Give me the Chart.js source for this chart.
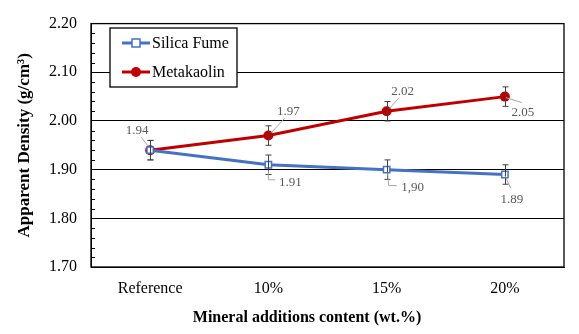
<!DOCTYPE html>
<html>
<head>
<meta charset="utf-8">
<script src="https://cdn.jsdelivr.net/npm/chart.js@4/dist/chart.umd.min.js"></script>
<style>
  html, body { margin: 0; padding: 0; background: #fff; }
  canvas { display: block; }
</style>
</head>
<body>
<canvas id="c" width="579" height="334"></canvas>
<script>
// ---- data ----
const categories = ['Reference', '10%', '15%', '20%'];
const silicaFume = [1.94, 1.91, 1.90, 1.89];
const metakaolin = [1.94, 1.97, 2.02, 2.05];
const silicaErr = [0.02, 0.02, 0.02, 0.02];
const metaErr = [0.02, 0.02, 0.02, 0.02];
const silicaLabels = ['', '1.91', '1,90', '1.89'];
const metaLabels = ['1.94', '1.97', '2.02', '2.05'];
const yMin = 1.70, yMax = 2.20, yStep = 0.10, yMinorStep = 0.02;
const seriesNames = ['Silica Fume', 'Metakaolin'];
const xTitle = 'Mineral additions content (wt.%)';
const yTitle = 'Apparent Density (g/cm\u00B3)';

// ---- styles ----
const BLUE = '#4472C4';
const RED = '#C00000';
const SERIF = '"Liberation Serif", "Times New Roman", serif';

// label placement (pixel offsets of text centre relative to point, and leader path)
const labelPlacement = [
  // silica fume
  [null,
   {dx: 22, dy: 18, leader: [[0, 6], [0, 15], [7, 15]]},
   {dx: 26, dy: 18, leader: [[1, 3], [2, 16], [10, 16]]},
   {dx: 7, dy: 25, leader: [[0, 1], [6, 14]]}],
  // metakaolin
  [{dx: -13, dy: -20, leader: [[-9, -13], [-2, -4]]},
   {dx: 20, dy: -24, leader: [[16, -17], [3, -3]]},
   {dx: 16, dy: -20, leader: [[12, -13], [3, -3]]},
   {dx: 18, dy: 16, leader: [[1, 1], [17, 6]]}]
];
const allLabels = [silicaLabels, metaLabels];
const allErr = [silicaErr, metaErr];

const decorPlugin = {
  id: 'decor',
  afterDatasetsDraw(chart) {
    const ctx = chart.ctx;
    const y = chart.scales.y;
    const x = chart.scales.x;
    const ca = chart.chartArea;
    ctx.save();
    // minor ticks (inside)
    ctx.strokeStyle = '#000';
    ctx.lineWidth = 1;
    for (let v = yMin; v <= yMax + 1e-9; v += yMinorStep) {
      const r = Math.round(v * 100) / 100;
      if (Math.abs(r * 10 - Math.round(r * 10)) < 1e-6) continue;
      const py = Math.round(y.getPixelForValue(r)) + 0.5;
      ctx.beginPath();
      ctx.moveTo(ca.left, py);
      ctx.lineTo(ca.left + 4, py);
      ctx.stroke();
    }
    // plot border
    ctx.lineWidth = 1.3;
    ctx.strokeRect(ca.left, ca.top, ca.right - ca.left, ca.bottom - ca.top);

    // error bars
    ctx.strokeStyle = '#404040';
    ctx.lineWidth = 1;
    chart.data.datasets.forEach((ds, di) => {
      ds.data.forEach((v, i) => {
        const e = allErr[di][i];
        const px = Math.round(x.getPixelForValue(i)) + 0.5;
        const t = y.getPixelForValue(v + e), b = y.getPixelForValue(v - e);
        ctx.beginPath();
        ctx.moveTo(px, t); ctx.lineTo(px, b);
        ctx.moveTo(px - 3, t); ctx.lineTo(px + 3, t);
        ctx.moveTo(px - 3, b); ctx.lineTo(px + 3, b);
        ctx.stroke();
      });
    });

    // data labels + leaders
    ctx.font = '13px ' + SERIF;
    ctx.textAlign = 'center';
    ctx.textBaseline = 'middle';
    chart.data.datasets.forEach((ds, di) => {
      ds.data.forEach((v, i) => {
        const txt = allLabels[di][i];
        const p = labelPlacement[di][i];
        if (!txt || !p) return;
        const px = x.getPixelForValue(i), py = y.getPixelForValue(v);
        ctx.strokeStyle = '#A6A6A6';
        ctx.lineWidth = 1;
        ctx.beginPath();
        p.leader.forEach((pt, k) => {
          const fx = px + pt[0], fy = py + pt[1];
          if (k === 0) ctx.moveTo(fx, fy); else ctx.lineTo(fx, fy);
        });
        ctx.stroke();
        ctx.fillStyle = '#595959';
        ctx.fillText(txt, px + p.dx, py + p.dy);
      });
    });
    ctx.restore();
  },
  afterDraw(chart) {
    const ctx = chart.ctx;
    const ca = chart.chartArea;
    ctx.save();
    // legend box
    const lx = 110, ly = 28, lw = 127, lh = 59;
    ctx.fillStyle = '#fff';
    ctx.fillRect(lx, ly, lw, lh);
    ctx.strokeStyle = '#000';
    ctx.lineWidth = 1.3;
    ctx.strokeRect(lx, ly, lw, lh);
    chart.data.datasets.forEach((ds, di) => {
      const cy = ly + 15 + di * 29;
      ctx.strokeStyle = ds.borderColor;
      ctx.lineWidth = 3;
      ctx.beginPath();
      ctx.moveTo(lx + 12, cy); ctx.lineTo(lx + 40, cy);
      ctx.stroke();
      const mx = lx + 26;
      if (ds.pointStyle === 'rect') {
        ctx.fillStyle = '#fff';
        ctx.lineWidth = 1.5;
        ctx.fillRect(mx - 4, cy - 4, 8, 8);
        ctx.strokeRect(mx - 4, cy - 4, 8, 8);
      } else {
        ctx.fillStyle = ds.backgroundColor;
        ctx.beginPath();
        ctx.arc(mx, cy, 5, 0, Math.PI * 2);
        ctx.fill();
      }
      ctx.fillStyle = '#000';
      ctx.font = '16px ' + SERIF;
      ctx.textAlign = 'left';
      ctx.textBaseline = 'middle';
      ctx.fillText(ds.label, lx + 42, cy + 1);
    });
    // axis titles
    ctx.fillStyle = '#000';
    ctx.font = 'bold 16px ' + SERIF;
    ctx.textAlign = 'center';
    ctx.textBaseline = 'middle';
    ctx.fillText(xTitle, 307, 318);
    ctx.translate(25, (ca.top + ca.bottom) / 2);
    ctx.rotate(-Math.PI / 2);
    ctx.font = 'bold 17px ' + SERIF;
    ctx.fillText(yTitle, 0, 0);
    ctx.restore();
  }
};

new Chart(document.getElementById('c'), {
  type: 'line',
  data: {
    labels: categories,
    datasets: [
      {
        label: seriesNames[0], data: silicaFume,
        borderColor: BLUE, backgroundColor: '#fff', borderWidth: 3,
        pointStyle: 'rect', pointRadius: 4.5, pointBorderWidth: 1.5,
        pointBorderColor: BLUE, pointBackgroundColor: '#fff', tension: 0
      },
      {
        label: seriesNames[1], data: metakaolin,
        borderColor: RED, backgroundColor: RED, borderWidth: 3,
        pointStyle: 'circle', pointRadius: 5, pointBorderWidth: 0,
        pointBackgroundColor: RED, tension: 0
      }
    ]
  },
  options: {
    responsive: false,
    animation: false,
    devicePixelRatio: 1,
    layout: { padding: { top: 18, right: 15, left: 0, bottom: 0 } },
    plugins: { legend: { display: false }, tooltip: { enabled: false } },
    scales: {
      x: {
        offset: true,
        grid: { display: false, drawTicks: false },
        border: { display: true, color: '#000', width: 1 },
        ticks: { color: '#000', font: { family: SERIF, size: 16 }, padding: 12 },
        afterFit(s) { s.height = 67; }
      },
      y: {
        min: yMin, max: yMax,
        grid: { color: '#000', lineWidth: 1, drawTicks: false },
        border: { display: true, color: '#000', width: 1 },
        ticks: {
          stepSize: yStep, color: '#000', padding: 14,
          font: { family: SERIF, size: 16 },
          callback: v => v.toFixed(2)
        },
        afterFit(s) { s.width = 91; }
      }
    }
  },
  plugins: [decorPlugin]
});
</script>
</body>
</html>
